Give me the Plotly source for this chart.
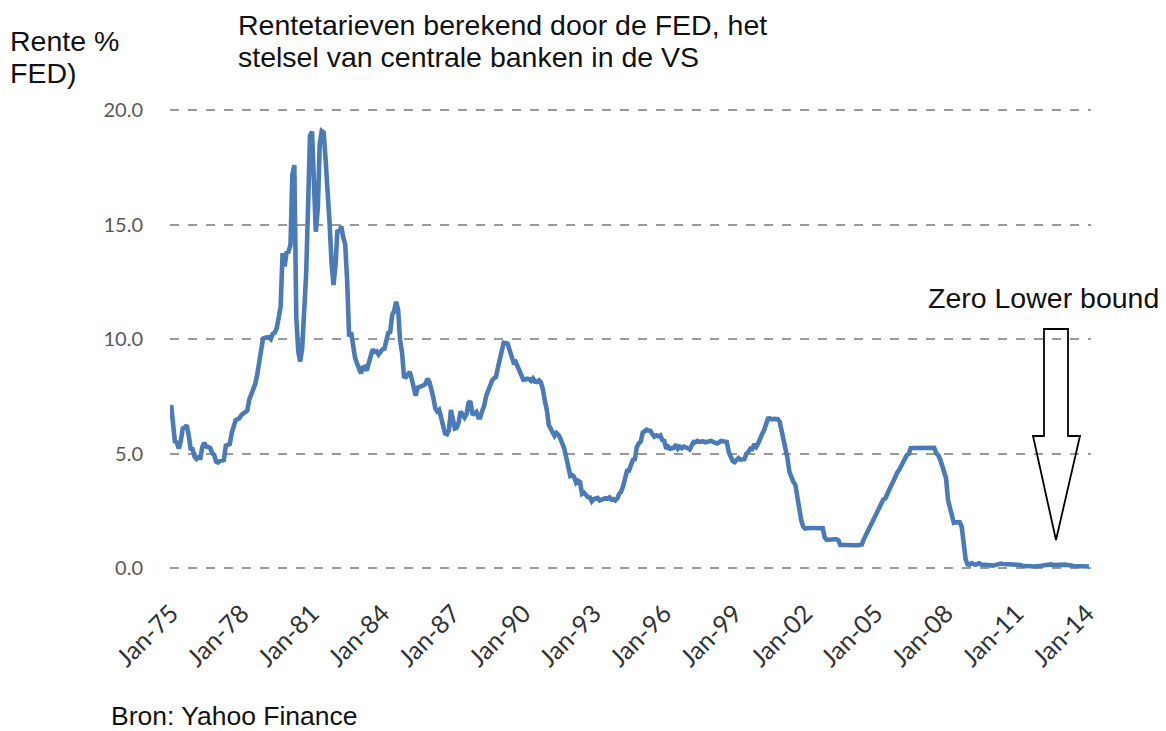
import pandas as pd
import plotly.graph_objects as go

# ---- data (monthly effective Fed funds rate) ----
rates_1975_1979 = [
    7.13, 6.24, 5.54, 5.49, 5.22, 5.55, 6.10, 6.14, 6.24, 5.82, 5.22, 5.20,
    4.87, 4.77, 4.84, 4.82, 5.29, 5.48, 5.31, 5.29, 5.25, 5.02, 4.95, 4.65,
    4.61, 4.68, 4.69, 4.73, 5.35, 5.39, 5.42, 5.90, 6.14, 6.47, 6.51, 6.56,
    6.70, 6.78, 6.79, 6.89, 7.36, 7.60, 7.81, 8.04, 8.45, 8.96, 9.76, 10.03,
    10.07, 10.06, 10.09, 10.01, 10.24, 10.29, 10.47, 10.94, 11.43, 13.77, 13.18, 13.78,
]
rates_1980s = [
    13.82, 14.13, 17.19, 17.61, 10.98, 9.47, 9.03, 9.61, 10.87, 12.81, 15.85, 18.90,
    19.08, 15.93, 14.70, 15.72, 18.52, 19.10, 19.04, 17.82, 15.87, 15.08, 13.31, 12.37,
    13.22, 14.78, 14.68, 14.94, 14.45, 14.15, 12.59, 10.12, 10.31, 9.71, 9.20, 8.95,
    8.68, 8.51, 8.77, 8.80, 8.63, 8.98, 9.37, 9.56, 9.45, 9.48, 9.34, 9.47,
    9.56, 9.59, 9.91, 10.29, 10.32, 11.06, 11.23, 11.64, 11.30, 9.99, 9.43, 8.38,
    8.35, 8.50, 8.58, 8.27, 7.97, 7.53, 7.88, 7.90, 7.92, 7.99, 8.05, 8.27,
    8.14, 7.86, 7.48, 6.99, 6.85, 6.92, 6.56, 6.17, 5.89, 5.85, 6.04, 6.91,
    6.43, 6.10, 6.13, 6.37, 6.85, 6.73, 6.58, 6.73, 7.22, 7.29, 6.69, 6.77,
    6.83, 6.58, 6.58, 6.87, 7.09, 7.51, 7.75, 8.01, 8.19, 8.30, 8.35, 8.76,
    9.12, 9.36, 9.85, 9.84, 9.81, 9.53, 9.24, 8.99, 9.02, 8.84, 8.55, 8.45,
]
rates_1990s = [
    8.23, 8.24, 8.28, 8.26, 8.18, 8.29, 8.15, 8.13, 8.20, 8.11, 7.81, 7.31,
    6.91, 6.25, 6.12, 5.91, 5.78, 5.90, 5.82, 5.66, 5.45, 5.21, 4.81, 4.43,
    4.03, 4.06, 3.98, 3.73, 3.82, 3.76, 3.25, 3.30, 3.22, 3.10, 3.09, 2.92,
    3.02, 3.03, 3.07, 2.96, 3.00, 3.04, 3.06, 3.03, 3.09, 2.99, 3.02, 2.96,
    3.05, 3.25, 3.34, 3.56, 4.01, 4.25, 4.26, 4.47, 4.73, 4.76, 5.29, 5.45,
    5.53, 5.92, 5.98, 6.05, 6.01, 6.00, 5.85, 5.74, 5.80, 5.76, 5.80, 5.60,
    5.56, 5.22, 5.31, 5.22, 5.24, 5.27, 5.40, 5.22, 5.30, 5.24, 5.31, 5.29,
    5.25, 5.19, 5.39, 5.51, 5.50, 5.56, 5.52, 5.54, 5.54, 5.50, 5.52, 5.50,
    5.56, 5.51, 5.49, 5.45, 5.49, 5.56, 5.54, 5.55, 5.51, 5.07, 4.83, 4.68,
    4.63, 4.76, 4.81, 4.74, 4.74, 4.76, 4.99, 5.07, 5.22, 5.20, 5.42, 5.30,
]
rates_2000s = [
    5.45, 5.73, 5.85, 6.02, 6.27, 6.53, 6.54, 6.50, 6.52, 6.51, 6.51, 6.40,
    5.98, 5.49, 5.31, 4.80, 4.21, 3.97, 3.77, 3.65, 3.07, 2.49, 2.09, 1.82,
    1.73, 1.74, 1.73, 1.75, 1.75, 1.75, 1.73, 1.74, 1.75, 1.75, 1.34, 1.24,
    1.24, 1.26, 1.25, 1.26, 1.26, 1.22, 1.01, 1.03, 1.01, 1.01, 1.00, 0.98,
    1.00, 1.01, 1.00, 1.00, 1.00, 1.03, 1.26, 1.43, 1.61, 1.76, 1.93, 2.16,
    2.28, 2.50, 2.63, 2.79, 3.00, 3.04, 3.26, 3.50, 3.62, 3.78, 4.00, 4.16,
    4.29, 4.49, 4.59, 4.79, 4.94, 4.99, 5.24, 5.25, 5.25, 5.25, 5.25, 5.24,
    5.25, 5.26, 5.26, 5.25, 5.25, 5.25, 5.26, 5.02, 4.94, 4.76, 4.49, 4.24,
    3.94, 2.98, 2.61, 2.28, 1.98, 2.00, 2.01, 2.00, 1.81, 0.97, 0.39, 0.16,
    0.15, 0.22, 0.18, 0.15, 0.18, 0.21, 0.16, 0.16, 0.15, 0.12, 0.12, 0.12,
]
rates_2010s = [
    0.11, 0.13, 0.16, 0.20, 0.20, 0.18, 0.18, 0.19, 0.19, 0.19, 0.19, 0.18,
    0.17, 0.16, 0.14, 0.10, 0.09, 0.09, 0.07, 0.10, 0.08, 0.07, 0.08, 0.07,
    0.08, 0.10, 0.13, 0.14, 0.16, 0.16, 0.16, 0.13, 0.14, 0.16, 0.16, 0.16,
    0.14, 0.15, 0.14, 0.15, 0.11, 0.09, 0.09, 0.08, 0.08, 0.09, 0.08, 0.09,
    0.07, 0.07,
]
rates = rates_1975_1979 + rates_1980s + rates_1990s + rates_2000s + rates_2010s
dates = pd.date_range("1975-01-01", periods=len(rates), freq="MS")

tick_years = [1975, 1978, 1981, 1984, 1987, 1990, 1993, 1996, 1999, 2002, 2005, 2008, 2011, 2014]
tick_vals = [f"{y}-01-01" for y in tick_years]
tick_text = [f"Jan-{str(y)[2:]}" for y in tick_years]
y_ticks = [0, 5, 10, 15, 20]
y_ticktext = ["0.0", "5.0", "10.0", "15.0", "20.0"]

title_lines = ["Rentetarieven berekend door de FED, het", "stelsel van centrale banken in de VS"]
ylabel_lines = ["Rente %", "FED)"]
zlb_label = "Zero Lower bound"
source_label = "Bron: Yahoo Finance"

# ---- layout geometry (page places the figure 8px in from the top-left) ----
OFF = 8
W, H = 1166 - OFF, 731 - OFF
ML, MR, MT, MB = 170 - OFF, 75, 99 - OFF, 140
PW, PH = W - ML - MR, H - MT - MB


def px(xp):
    return (xp - OFF - ML) / PW


def py(yp):
    return (H - MB - (yp - OFF)) / PH


fig = go.Figure()
fig.add_trace(go.Scatter(
    x=dates, y=rates, mode="lines",
    line=dict(color="#4a7bb7", width=4.6),
    hoverinfo="x+y", showlegend=False,
))

fig.update_layout(
    width=W, height=H,
    margin=dict(l=ML, r=MR, t=MT, b=MB),
    paper_bgcolor="white", plot_bgcolor="white",
    font=dict(family="Liberation Sans, Arial, sans-serif", color="#000000"),
    xaxis=dict(
        type="date",
        range=["1974-12-15", "2014-03-05"],
        tickvals=tick_vals, ticktext=tick_text,
        tickangle=-45,
        tickfont=dict(family="Lato, Calibri, sans-serif", size=25, color="#333333"),
        showgrid=False, zeroline=False, showline=False,
        ticks="", ticklabelstandoff=2,
    ),
    yaxis=dict(
        range=[-1, 20.5],
        tickvals=y_ticks, ticktext=y_ticktext,
        tickfont=dict(family="Lato, Calibri, sans-serif", size=20, color="#595959"),
        showgrid=True, gridcolor="#9a9a9a", gridwidth=1.5, griddash="dash",
        zeroline=False, showline=False, ticks="", ticklabelstandoff=26,
    ),
)

ann_font = dict(family="Liberation Sans, Arial, sans-serif", size=28.5, color="#111111")
annotations = []
for i, line in enumerate(title_lines):
    annotations.append(dict(text=line, x=px(236), y=py(25 + 32 * i), xref="paper", yref="paper",
                            xanchor="left", yanchor="middle", showarrow=False, font=ann_font))
for i, line in enumerate(ylabel_lines):
    annotations.append(dict(text=line, x=px(8), y=py(41 + 32 * i), xref="paper", yref="paper",
                            xanchor="left", yanchor="middle", showarrow=False, font=ann_font))
annotations.append(dict(text=zlb_label, x=px(926), y=py(298), xref="paper", yref="paper",
                        xanchor="left", yanchor="middle", showarrow=False, font=ann_font))
annotations.append(dict(text=source_label, x=px(109), y=py(716), xref="paper", yref="paper",
                        xanchor="left", yanchor="middle", showarrow=False,
                        font=dict(family="Liberation Sans, Arial, sans-serif", size=26.5, color="#111111")))
fig.update_layout(annotations=annotations)

# hollow block arrow (decoration) in paper coordinates
arrow_px = [(1044, 329), (1068, 329), (1068, 436), (1080, 436), (1056, 540), (1033, 436), (1044, 436)]
path = "M " + " L ".join(f"{px(a):.5f},{py(b):.5f}" for a, b in arrow_px) + " Z"
fig.add_shape(type="path", path=path, xref="paper", yref="paper",
              line=dict(color="black", width=1.8), fillcolor="rgba(255,255,255,0)", layer="above")

fig.write_html("out.html")
